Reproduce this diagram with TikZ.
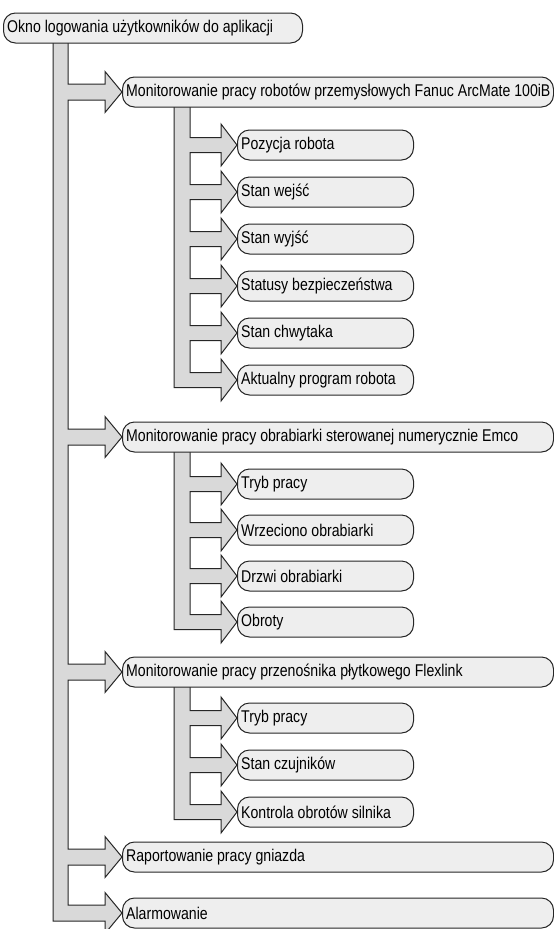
\documentclass[tikz,border=0pt]{standalone}
\usepackage{fontspec}
\setmainfont{Liberation Sans}[FakeStretch=0.83]
\definecolor{linec}{HTML}{262626}
\definecolor{boxf}{HTML}{EEEEEE}
\definecolor{pipef}{HTML}{D9D9D9}
\begin{document}
\begin{tikzpicture}[x=1pt,y=-1pt,
  box/.style={draw=linec, fill=boxf, rounded corners=12pt, minimum height=30pt,
    inner sep=0pt, anchor=west, line width=1pt},
  lbl/.style={anchor=west, inner xsep=4pt, inner ysep=0pt,
    font=\fontsize{17}{19}\selectfont},
  lvlzero/.style={box, minimum width=299pt},
  lvlone/.style={box, minimum width=431pt},
  lvltwo/.style={box, minimum width=176pt},
  pipe/.style={draw=linec, fill=pipef, line width=1pt, line join=miter}]
\useasboundingbox (0,0) rectangle (554,929);
% main trunk
\path[pipe] (53,35) -- (53,921) foreach \c in {913,857,672,437,92} {
  -- (68,\c+8) -- (105,\c+8) -- (105,\c+20.5) -- (122,\c) -- (105,\c-20.5) -- (105,\c-8) -- (68,\c-8) } -- (68,35) -- cycle;
% robots
\path[pipe] (174,100) -- (174,387.5) foreach \c in {380,333,286,239,192,145} {
  -- (190,\c+7.5) -- (221,\c+7.5) -- (221,\c+21) -- (237,\c) -- (221,\c-21) -- (221,\c-7.5) -- (190,\c-7.5) } -- (190,100) -- cycle;
% obrabiarka
\path[pipe] (174,445) -- (174,629.5) foreach \c in {622,576,530,484} {
  -- (190,\c+7.5) -- (221,\c+7.5) -- (221,\c+21) -- (237,\c) -- (221,\c-21) -- (221,\c-7.5) -- (190,\c-7.5) } -- (190,445) -- cycle;
% przenosnik
\path[pipe] (174,680) -- (174,819.5) foreach \c in {812,765,718} {
  -- (190,\c+7.5) -- (221,\c+7.5) -- (221,\c+21) -- (237,\c) -- (221,\c-21) -- (221,\c-7.5) -- (190,\c-7.5) } -- (190,680) -- cycle;

\node[lvlzero] (root) at (3,28) {};
\node[lbl] (roott) at (root.west) {Okno logowania użytkowników do aplikacji};
\node[lvlone] (rob) at (122,92) {};
\node[lbl] (robt) at (rob.west) {Monitorowanie pracy robotów przemysłowych Fanuc ArcMate 100iB};
\node[lvltwo] (r1) at (237,145) {};
\node[lbl] (r1t) at (r1.west) {Pozycja robota};
\node[lvltwo] (r2) at (237,192) {};
\node[lbl] (r2t) at (r2.west) {Stan wejść};
\node[lvltwo] (r3) at (237,239) {};
\node[lbl] (r3t) at (r3.west) {Stan wyjść};
\node[lvltwo] (r4) at (237,286) {};
\node[lbl] (r4t) at (r4.west) {Statusy bezpieczeństwa};
\node[lvltwo] (r5) at (237,333) {};
\node[lbl] (r5t) at (r5.west) {Stan chwytaka};
\node[lvltwo] (r6) at (237,380) {};
\node[lbl] (r6t) at (r6.west) {Aktualny program robota};
\node[lvlone] (obr) at (122,437) {};
\node[lbl] (obrt) at (obr.west) {Monitorowanie pracy obrabiarki sterowanej numerycznie Emco};
\node[lvltwo] (o1) at (237,484) {};
\node[lbl] (o1t) at (o1.west) {Tryb pracy};
\node[lvltwo] (o2) at (237,530) {};
\node[lbl] (o2t) at (o2.west) {Wrzeciono obrabiarki};
\node[lvltwo] (o3) at (237,576) {};
\node[lbl] (o3t) at (o3.west) {Drzwi obrabiarki};
\node[lvltwo] (o4) at (237,622) {};
\node[lbl] (o4t) at (o4.west) {Obroty};
\node[lvlone] (prz) at (122,672) {};
\node[lbl] (przt) at (prz.west) {Monitorowanie pracy przenośnika płytkowego Flexlink};
\node[lvltwo] (p1) at (237,718) {};
\node[lbl] (p1t) at (p1.west) {Tryb pracy};
\node[lvltwo] (p2) at (237,765) {};
\node[lbl] (p2t) at (p2.west) {Stan czujników};
\node[lvltwo] (p3) at (237,812) {};
\node[lbl] (p3t) at (p3.west) {Kontrola obrotów silnika};
\node[lvlone] (rap) at (122,857) {};
\node[lbl] (rapt) at (rap.west) {Raportowanie pracy gniazda};
\node[lvlone] (ala) at (122,913) {};
\node[lbl] (alat) at (ala.west) {Alarmowanie};
\end{tikzpicture}
\end{document}
